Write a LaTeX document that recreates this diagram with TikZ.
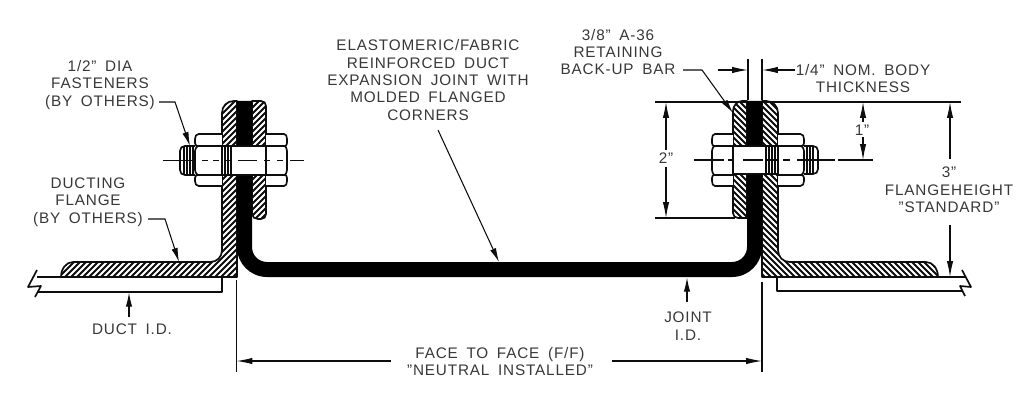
\documentclass[tikz,border=0pt]{standalone}
\usepackage{fontspec}
\setmainfont[LetterSpace=5.5,WordSpace=1.7]{Liberation Sans}
\usetikzlibrary{arrows.meta}
\definecolor{ink}{gray}{0.05}
\definecolor{txt}{gray}{0.22}
\newcommand{\hatchshape}[2]{%
  \begin{scope}
    \clip #1;
    \foreach \k in {-200,-194,...,1200}
      \draw[hatchline] (\k,290) -- ++(#2*200,-200);
  \end{scope}
  \draw[outline] #1;
}
\newcommand{\nutbody}[2]{%
  \begin{scope}[shift={(#1,0)},xscale=#2]
    \fill[white] (0,134) rectangle (1,186);
    \draw[outline] (0,134) -- (0.86,134) .. controls (0.95,134) and (1,136) .. (1,139)
      -- (1,143) .. controls (1,145) and (0.95,146) .. (0.9,146)
      .. controls (0.95,147) and (1,149) .. (1,151)
      -- (1,170) .. controls (1,172) and (0.95,174) .. (0.9,175)
      .. controls (0.95,175) and (1,176) .. (1,178)
      -- (1,181) .. controls (1,184) and (0.95,186) .. (0.86,186) -- (0,186);
    \draw[outline] (0,146) -- (0.9,146) (0,175) -- (0.9,175);
  \end{scope}
}
\tikzset{
  outline/.style={draw=ink,line width=0.95pt,line join=round},
  thin line/.style={draw=ink,line width=0.6pt},
  hatchline/.style={draw=ink,line width=1.05pt},
  joint/.style={fill=black,draw=none},
  label text/.style={text=txt,align=center,inner sep=0pt,font=\fontsize{8.7}{9.9}\selectfont},
  dimarrow/.style={thin line,-{Latex[length=9pt,width=3.6pt]}},
  leader/.style={thin line,-{Latex[length=8pt,width=3.6pt]}},
  threadline/.style={draw=ink,line width=0.7pt},
}
\begin{document}
\begin{tikzpicture}[x=0.02cm,y=-0.02cm]
\useasboundingbox[fill=white] (0,0) rectangle (1030,415);

% named reference points
\coordinate (topL) at (655,102);
\coordinate (topR) at (961,102);
\coordinate (lowL) at (655,218);
\coordinate (lowR) at (735,218);
\coordinate (dimT) at (666,102);
\coordinate (oneT) at (863,102);
\coordinate (oneB) at (863,160);
\coordinate (threeT) at (950,102);
\coordinate (threeB) at (950,277);
\coordinate (twoB) at (666,218);

% extension lines
\draw[thin line] (topL) -- (topR);
\draw[thin line] (lowL) -- (lowR);
\draw[thin line] (748,59) -- (748,100);
\draw[thin line] (762,59) -- (762,100);
\draw[thin line] (236.5,280) -- (236.5,372);
\draw[thin line] (762,282) -- (762,372);

% flanges and backing bars
\hatchshape{(237,101) -- (234,101) .. controls (227,101) and (222,106) .. (222,113) -- (222,250)
  .. controls (222,257) and (217,262) .. (210,262) -- (73,262)
  .. controls (66,262) and (61,269) .. (61,277) -- (237,277) -- cycle}{1}
\hatchshape{(252,101) -- (261,101) .. controls (264,101) and (266,103) .. (266,106) -- (266,214)
  .. controls (266,217) and (264,219) .. (261,219) -- (258,219) .. controls (255,219) and (252,217) .. (252,214) -- cycle}{1}
\hatchshape{(762,101) -- (766,101) .. controls (773,101) and (778,106) .. (778,113) -- (778,250)
  .. controls (778,257) and (783,262) .. (790,262) -- (926,262)
  .. controls (933,262) and (938,269) .. (938,277) -- (762,277) -- cycle}{-1}
\hatchshape{(747,101) -- (742,101) .. controls (737,101) and (733,106) .. (733,111) -- (733,213)
  .. controls (733,216) and (735,218) .. (738,218) -- (747,218) -- cycle}{-1}

% joint body
\fill[joint] (237,101) -- (252,101) -- (252,247) .. controls (252,255.3) and (258.7,262) .. (267,262)
  -- (732,262) .. controls (740.3,262) and (747,255.3) .. (747,247) -- (747,101) -- (762,101)
  -- (762,247) .. controls (762,263.6) and (748.6,277) .. (732,277) -- (267,277)
  .. controls (250.4,277) and (237,263.6) .. (237,247) -- cycle;

% duct walls
\draw[outline] (37,277) -- (61,277);
\draw[outline] (938,277) -- (965,277);
\draw[outline] (37,270) -- (28,287) -- (41,286) -- (35,297);
\draw[outline] (38,292) -- (222,292) -- (222,277);
\draw[outline] (962,270) -- (971,287) -- (960,286) -- (965,296);
\draw[outline] (963,291) -- (777,291) -- (777,277);

% left bolt
\nutbody{222}{-27}
\nutbody{266}{21}
\fill[white] (222,146) rectangle (266,175);
\draw[outline] (222,146) -- (266,146) (222,175) -- (266,175) (266,146) -- (266,175) (222,146) -- (222,175);
\foreach \t in {225,228,231}
  \draw[threadline] (\t,146) -- (\t,175);
\draw[outline] (195,146) -- (185,146) .. controls (182,146) and (180,148) .. (180,151) -- (180,170)
  .. controls (180,173) and (182,175) .. (185,175) -- (195,175);
\foreach \t in {184,187,190,193}
  \draw[threadline] (\t,146) -- (\t,175);

% right bolt
\nutbody{733}{-21}
\nutbody{778}{26}
\fill[white] (733,146) rectangle (778,174);
\draw[outline] (733,146) -- (778,146) (733,174) -- (778,174) (733,146) -- (733,174) (778,146) -- (778,174);
\foreach \t in {766,769,772,775}
  \draw[threadline] (\t,146) -- (\t,174);
\draw[outline] (804,146) -- (813,146) .. controls (816,146) and (818,148) .. (818,151) -- (818,169)
  .. controls (818,172) and (816,174) .. (813,174) -- (804,174);
\foreach \t in {807,810,813}
  \draw[threadline] (\t,146) -- (\t,174);

% centre lines
\foreach \a/\b in {163/193,202/208,213/219,224/232,238/257,264/270,277/283,290/304}
  \draw[thin line] (\a,160.5) -- (\b,160.5);
\foreach \a/\b in {694/724,728/733,743/763,767/778,783/790,797/835,838/873}
  \draw[thin line] (\a,160) -- (\b,160);

% labels
\node[label text] (fasteners) at (100,85) {1/2" DIA\\FASTENERS\\(BY OTHERS)};
\node[label text] (ducting) at (88,202) {DUCTING\\FLANGE\\(BY OTHERS)};
\node[label text] (ductid) at (132,329) {DUCT I.D.};
\node[label text] (joint) at (428,80) {ELASTOMERIC/FABRIC\\REINFORCED DUCT\\EXPANSION JOINT WITH\\MOLDED FLANGED\\CORNERS};
\node[label text] (bar) at (618,52) {3/8" A-36\\RETAINING\\BACK-UP BAR};
\node[label text] (body) at (863,78.5) {1/4" NOM. BODY\\THICKNESS};
\node[label text] (two) at (666,158) {2"};
\node[label text] (one) at (862,130) {1"};
\node[label text] (three) at (949,190) {3"\\FLANGEHEIGHT\\"STANDARD"};
\node[label text] (face) at (500,361.5) {FACE TO FACE (F/F)\\"NEUTRAL INSTALLED"};
\node[label text] (jointid) at (688,326) {JOINT\\I.D.};

% leaders
\coordinate (fastA) at (159,102);
\coordinate (fastB) at (175,102);
\coordinate (fastTip) at (190,146);
\draw[leader] (fastA) -- (fastB) -- (fastTip);
\coordinate (ductA) at (148,219);
\coordinate (ductB) at (165,219);
\coordinate (ductTip) at (179,262);
\draw[leader] (ductA) -- (ductB) -- (ductTip);
\coordinate (ductFrom) at (129,317);
\coordinate (ductTo) at (129,292.5);
\draw[leader] (ductFrom) -- (ductTo);
\coordinate (jointFrom) at (438,130);
\coordinate (jointTip) at (499,262);
\draw[leader] (jointFrom) -- (jointTip);
\coordinate (barA) at (683,70);
\coordinate (barB) at (702,70);
\coordinate (barTip) at (733,113);
\draw[leader] (barA) -- (barB) -- (barTip);
\coordinate (jidFrom) at (687,302);
\coordinate (jidTo) at (687,277.5);
\draw[leader] (jidFrom) -- (jidTo);

% dimensions
\coordinate (tA) at (718,70); \coordinate (tB) at (748,70);
\draw[dimarrow] (tA) -- (tB);
\coordinate (tC) at (795,70); \coordinate (tD) at (762,70);
\draw[dimarrow] (tC) -- (tD);
\coordinate (twoA) at (666,150); \coordinate (twoC) at (666,167);
\draw[dimarrow] (twoA) -- (dimT);
\draw[dimarrow] (twoC) -- (twoB);
\coordinate (oneA) at (863,122); \coordinate (oneC) at (863,137);
\draw[dimarrow] (oneA) -- (oneT);
\draw[dimarrow] (oneC) -- (oneB);
\coordinate (thrA) at (950,159); \coordinate (thrC) at (950,225);
\draw[dimarrow] (thrA) -- (threeT);
\draw[dimarrow] (thrC) -- (threeB);
\coordinate (ffA) at (391,361); \coordinate (ffB) at (236.5,361);
\coordinate (ffC) at (612,361); \coordinate (ffD) at (762,361);
\draw[dimarrow] (ffA) -- (ffB);
\draw[dimarrow] (ffC) -- (ffD);
\end{tikzpicture}
\end{document}
